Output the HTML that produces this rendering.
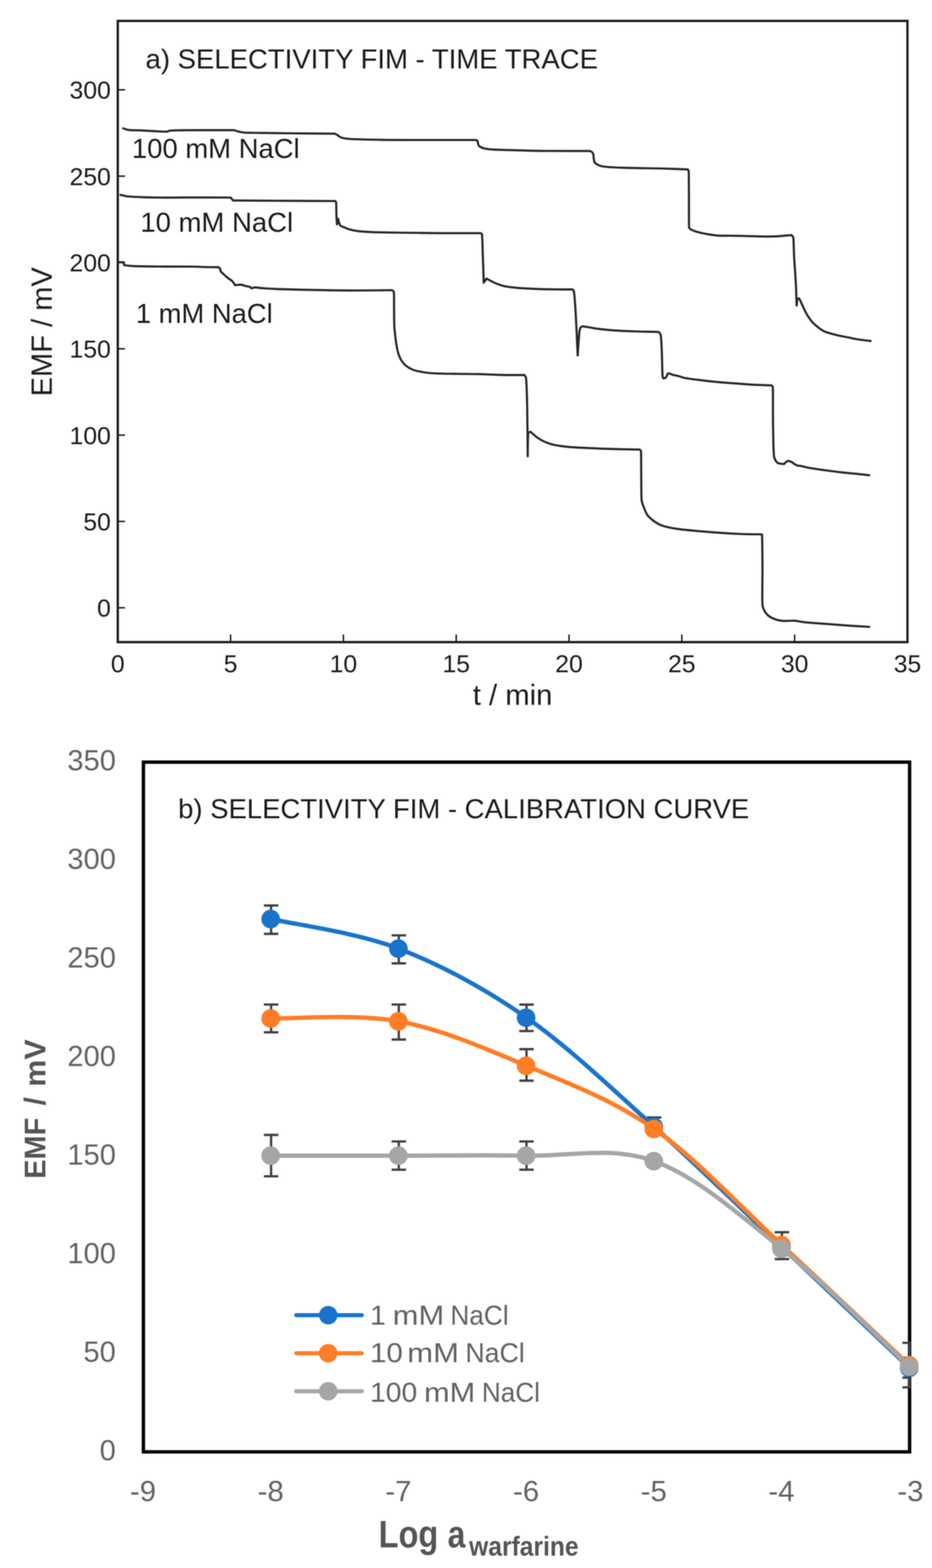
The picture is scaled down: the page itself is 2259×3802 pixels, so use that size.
<!DOCTYPE html><html><head><meta charset="utf-8"><style>html,body{margin:0;padding:0;background:#fff;}svg{display:block;}text{font-family:"Liberation Sans",Arial,sans-serif;}</style></head><body>
<svg width="2259" height="3802" viewBox="0 0 2259 3802">
<rect width="100%" height="100%" fill="#fff"/>
<g style="filter:blur(1px)">
<g id="panel-a">
<rect x="285.5" y="50.7" width="1914" height="1506.3" fill="none" stroke="#1c1a1b" stroke-width="5.6"/>
<line x1="285.5" y1="1473.7" x2="303" y2="1473.7" stroke="#1c1a1b" stroke-width="3.6"/>
<text x="268.7" y="1495.2" font-size="60" font-weight="normal" fill="#1c1a1b" text-anchor="end">0</text>
<line x1="285.5" y1="1264.38" x2="303" y2="1264.38" stroke="#1c1a1b" stroke-width="3.6"/>
<text x="268.7" y="1285.88" font-size="60" font-weight="normal" fill="#1c1a1b" text-anchor="end">50</text>
<line x1="285.5" y1="1055.07" x2="303" y2="1055.07" stroke="#1c1a1b" stroke-width="3.6"/>
<text x="268.7" y="1076.57" font-size="60" font-weight="normal" fill="#1c1a1b" text-anchor="end">100</text>
<line x1="285.5" y1="845.75" x2="303" y2="845.75" stroke="#1c1a1b" stroke-width="3.6"/>
<text x="268.7" y="867.25" font-size="60" font-weight="normal" fill="#1c1a1b" text-anchor="end">150</text>
<line x1="285.5" y1="636.43" x2="303" y2="636.43" stroke="#1c1a1b" stroke-width="3.6"/>
<text x="268.7" y="657.93" font-size="60" font-weight="normal" fill="#1c1a1b" text-anchor="end">200</text>
<line x1="285.5" y1="427.12" x2="303" y2="427.12" stroke="#1c1a1b" stroke-width="3.6"/>
<text x="268.7" y="448.62" font-size="60" font-weight="normal" fill="#1c1a1b" text-anchor="end">250</text>
<line x1="285.5" y1="217.8" x2="303" y2="217.8" stroke="#1c1a1b" stroke-width="3.6"/>
<text x="268.7" y="239.3" font-size="60" font-weight="normal" fill="#1c1a1b" text-anchor="end">300</text>
<text x="285.5" y="1630.2" font-size="60" font-weight="normal" fill="#1c1a1b" text-anchor="middle">0</text>
<line x1="558.93" y1="1557" x2="558.93" y2="1538.5" stroke="#1c1a1b" stroke-width="3.6"/>
<text x="558.93" y="1630.2" font-size="60" font-weight="normal" fill="#1c1a1b" text-anchor="middle">5</text>
<line x1="832.36" y1="1557" x2="832.36" y2="1538.5" stroke="#1c1a1b" stroke-width="3.6"/>
<text x="832.36" y="1630.2" font-size="60" font-weight="normal" fill="#1c1a1b" text-anchor="middle">10</text>
<line x1="1105.79" y1="1557" x2="1105.79" y2="1538.5" stroke="#1c1a1b" stroke-width="3.6"/>
<text x="1105.79" y="1630.2" font-size="60" font-weight="normal" fill="#1c1a1b" text-anchor="middle">15</text>
<line x1="1379.21" y1="1557" x2="1379.21" y2="1538.5" stroke="#1c1a1b" stroke-width="3.6"/>
<text x="1379.21" y="1630.2" font-size="60" font-weight="normal" fill="#1c1a1b" text-anchor="middle">20</text>
<line x1="1652.64" y1="1557" x2="1652.64" y2="1538.5" stroke="#1c1a1b" stroke-width="3.6"/>
<text x="1652.64" y="1630.2" font-size="60" font-weight="normal" fill="#1c1a1b" text-anchor="middle">25</text>
<line x1="1926.07" y1="1557" x2="1926.07" y2="1538.5" stroke="#1c1a1b" stroke-width="3.6"/>
<text x="1926.07" y="1630.2" font-size="60" font-weight="normal" fill="#1c1a1b" text-anchor="middle">30</text>
<text x="2199.5" y="1630.2" font-size="60" font-weight="normal" fill="#1c1a1b" text-anchor="middle">35</text>
<text x="352.8" y="165.5" font-size="66.7" font-weight="normal" fill="#1c1a1b" textLength="1096.55" lengthAdjust="spacingAndGlyphs">a) SELECTIVITY FIM - TIME TRACE</text>
<text x="319.71" y="382.6" font-size="66.5" font-weight="normal" fill="#1c1a1b" textLength="406.71" lengthAdjust="spacingAndGlyphs">100 mM NaCl</text>
<text x="340.2" y="562" font-size="66.5" font-weight="normal" fill="#1c1a1b" textLength="370.35" lengthAdjust="spacingAndGlyphs">10 mM NaCl</text>
<text x="329.22" y="783.2" font-size="66.5" font-weight="normal" fill="#1c1a1b" textLength="331.73" lengthAdjust="spacingAndGlyphs">1 mM NaCl</text>
<text x="1145.94" y="1709.2" font-size="71" font-weight="normal" fill="#1c1a1b" textLength="192.85" lengthAdjust="spacingAndGlyphs">t / min</text>
<text transform="translate(125.5,955.4) rotate(-90)" x="-5.64" y="0" font-size="71" fill="#1c1a1b" textLength="313.1" lengthAdjust="spacingAndGlyphs">EMF / mV</text>
<path d="M298.6,311.2 C298.6,311.2 307.1,314.66 311.6,315.2 C318.5,316.03 330.54,315.76 340,316.2 C350.78,316.7 365.58,317.7 376.3,318.2 C385.63,318.64 398.55,319.4 404.3,319.2 C406.59,319.12 408.53,317.24 410.8,317 C416.18,316.43 427.99,315.94 436.6,315.8 C451.47,315.57 478.87,315.63 500,315.6 C521.9,315.57 568,315.6 568,315.6 C568,315.6 573.78,317.95 576.8,318.7 C580.78,319.68 586.81,320.99 591.9,321.5 C597.43,322.05 603.97,321.9 610,322 C625.35,322.25 659.33,322.73 684,323 C717.67,323.37 812,324.2 812,324.2 C812,324.2 816.09,326.25 818,327.5 C819.98,328.8 821.66,330.95 823.9,332 C826.73,333.33 831.16,334.92 835,335.5 C841.02,336.42 851.65,337.2 860,337.5 C877.65,338.13 913.93,339.02 940.9,339.3 C972.57,339.63 1014.62,339.47 1050,339.5 C1084.4,339.53 1153.2,339.5 1153.2,339.5 C1153.2,339.5 1156.7,340.55 1157.5,342 C1158.47,343.75 1158.08,347.75 1159,350 C1159.86,352.1 1161.09,354.28 1163,355.5 C1165.6,357.17 1170.55,359.11 1174.6,360 C1180.03,361.2 1188.55,362.33 1195.6,362.7 C1210.57,363.48 1242,364.15 1264.4,364.7 C1286.26,365.24 1308.13,365.8 1330,366 C1357.73,366.25 1430.8,366.2 1430.8,366.2 C1430.8,366.2 1436.03,369.08 1437.3,371.6 C1438.65,374.28 1438.37,378.73 1438.9,382.3 C1439.43,385.88 1440.5,393.1 1440.5,393.1 C1440.5,393.1 1444.55,397.12 1447,398.5 C1449.87,400.12 1453.96,401.9 1457.7,402.8 C1462.18,403.88 1468.47,404.58 1473.9,405 C1482,405.63 1495.49,406.21 1506.3,406.6 C1518.88,407.05 1535.03,407.41 1549.4,407.7 C1565.02,408.02 1583.14,408.06 1600,408.5 C1619.68,409.02 1667.5,410.8 1667.5,410.8 C1667.5,410.8 1669.46,415.51 1669.5,418 C1669.92,441.4 1670,551.2 1670,551.2 C1670,551.2 1672.04,554.69 1673.7,555.7 C1676.55,557.43 1682.44,560.15 1687.1,561.6 C1693.03,563.45 1701.83,565.42 1709.3,566.8 C1717.95,568.4 1729.12,570.42 1739,571.2 C1748.84,571.98 1758.73,571.37 1768.6,571.5 C1778.48,571.63 1788.4,571.76 1798.3,572 C1811.93,572.33 1836.78,573.3 1850.4,573.5 C1860.27,573.64 1872.15,573.47 1880,573.2 C1885.85,573 1891.67,572.37 1897.5,571.9 C1903.92,571.38 1918.5,570.1 1918.5,570.1 C1918.5,570.1 1922.59,573.79 1922.9,576.3 C1923.93,584.63 1923.91,605.51 1924.7,620.1 C1925.73,639.08 1928.08,670.05 1929.1,690.2 C1929.95,707.12 1930.8,741 1930.8,741 L1932.6,725.2 L1936.9,723.4 C1936.9,723.4 1939.28,728.04 1940.4,730.4 C1943.18,736.25 1949.07,750.32 1953.6,758.5 C1957.68,765.86 1962.35,773.37 1967.6,779.5 C1972.71,785.47 1979.85,791.22 1985.1,795.3 C1989.44,798.67 1994,801.96 1999.1,804 C2006.4,806.92 2019.55,810.47 2028.9,812.8 C2037.57,814.96 2046.44,816.25 2055.2,818 C2063.97,819.75 2072.67,821.89 2081.5,823.3 C2090.7,824.77 2110.4,826.8 2110.4,826.8" fill="none" stroke="#262626" stroke-width="5.2" stroke-linejoin="round" stroke-linecap="round"/>
<path d="M292.1,472.5 C292.1,472.5 305.45,476 312.3,476.5 C327.13,477.58 358.15,478.69 381.1,479 C409.42,479.38 452.55,478.8 482.2,478.8 C507.8,478.8 559,479 559,479 L565.1,486.2 C565.1,486.2 569.1,486.19 571.1,486.2 C590.98,486.3 646.63,486.6 684.4,486.8 C724.68,487.02 812.8,487.5 812.8,487.5 C812.8,487.5 814.69,490.08 814.8,491.6 C815.25,497.67 815.17,515.15 815.5,523.9 C815.76,530.64 816.8,544.1 816.8,544.1 L819.5,530.6 C819.5,530.6 820.65,536.08 821.6,538.7 C822.62,541.52 823.58,545.47 825.6,547.5 C827.62,549.53 830.99,549.8 833.7,550.9 C837.3,552.37 842.53,555 847.2,556.3 C852.82,557.87 860.59,559.43 867.4,560.3 C875.25,561.3 885.32,561.85 894.3,562.3 C905.53,562.87 921.29,563.42 934.8,563.7 C952.42,564.07 978.77,564.23 1000,564.5 C1020.73,564.76 1041.47,565.2 1062.2,565.3 C1089.58,565.43 1164.3,565.3 1164.3,565.3 C1164.3,565.3 1168.12,566.64 1168.3,568.3 C1169.3,577.57 1169.7,604.73 1170.3,620.9 C1170.85,635.7 1171.57,654.53 1171.9,665.3 C1172.11,672.03 1172.3,685.5 1172.3,685.5 L1179.4,675.4 C1179.4,675.4 1186.97,679.63 1190.5,681.5 C1193.83,683.26 1197.1,685.21 1200.6,686.6 C1205.67,688.62 1214.15,691.92 1220.9,693.6 C1227.51,695.25 1234.37,695.85 1241.1,696.7 C1247.81,697.55 1254.55,698.25 1261.3,698.7 C1271.4,699.37 1288.23,700.2 1301.7,700.7 C1315.16,701.2 1328.63,701.54 1342.1,701.7 C1356.25,701.87 1386.6,701.7 1386.6,701.7 C1386.6,701.7 1390.38,703.04 1390.7,704.7 C1391.97,711.2 1393.36,728.67 1394.2,740.7 C1395.33,757.02 1396.5,782.38 1397.5,802.6 C1398.48,822.4 1400.2,862 1400.2,862 C1400.2,862 1402.68,822.47 1403.7,811.4 C1404.19,806.08 1404.85,798.97 1406.3,795.6 C1407.29,793.3 1412.4,791.2 1412.4,791.2 C1412.4,791.2 1420,792.38 1423.8,793 C1430.08,794.03 1441.28,796.26 1450.1,797.4 C1460.32,798.72 1473.4,800.09 1485.1,800.9 C1499.7,801.92 1520.18,802.87 1537.7,803.5 C1555.19,804.13 1580.28,804.4 1590.2,804.7 C1592.54,804.77 1597.2,805.3 1597.2,805.3 C1597.2,805.3 1601.15,810.15 1601.6,813.1 C1602.73,820.55 1603.47,837.69 1604,850 C1604.7,866.37 1605.22,900.07 1605.8,911.3 C1605.91,913.41 1607.5,917.4 1607.5,917.4 C1607.5,917.4 1612.18,917.21 1613.7,915.7 C1615.6,913.82 1617.3,907.77 1618.9,906.1 C1619.92,905.04 1623.3,905.7 1623.3,905.7 C1623.3,905.7 1627.86,908 1630.3,908.7 C1634.1,909.78 1641.72,911.03 1646.1,912.2 C1649.67,913.15 1653,914.9 1656.6,915.7 C1661.85,916.87 1670.57,918.21 1677.6,919.2 C1686.93,920.52 1700.92,922.28 1712.6,923.6 C1724.28,924.92 1736.02,926.08 1747.7,927.1 C1759.35,928.11 1771.03,928.83 1782.7,929.7 C1794.38,930.57 1806.58,931.62 1817.8,932.3 C1828.53,932.95 1841.42,933.45 1850,933.8 C1856.43,934.06 1869.3,934.4 1869.3,934.4 C1869.3,934.4 1873.01,936.79 1873.1,938.7 C1873.82,953.15 1873.33,997.27 1873.6,1021.1 C1873.83,1041.3 1874.27,1067.38 1874.7,1081.7 C1874.96,1090.14 1875.28,1101.1 1876.2,1107 C1876.76,1110.58 1878.52,1114.4 1880.2,1117.1 C1881.72,1119.54 1883.63,1122.13 1886.3,1123.2 C1889.67,1124.55 1900.4,1125.2 1900.4,1125.2 C1900.4,1125.2 1903.82,1121.37 1905.5,1120.1 C1906.99,1118.98 1908.64,1117.6 1910.5,1117.6 C1912.68,1117.6 1916.07,1118.84 1918.6,1120.1 C1921.13,1121.37 1923.33,1123.77 1925.7,1125.2 C1927.96,1126.57 1930.27,1127.95 1932.8,1128.7 C1935.33,1129.45 1938.23,1129.16 1940.9,1129.7 C1945.65,1130.67 1954.42,1133.28 1961.3,1134.5 C1971.43,1136.3 1988.23,1138.65 2001.7,1140.5 C2015.15,1142.35 2028.62,1144.08 2042.1,1145.6 C2055.58,1147.12 2071.82,1148.48 2082.6,1149.6 C2090.67,1150.44 2106.8,1152.3 2106.8,1152.3" fill="none" stroke="#262626" stroke-width="5.2" stroke-linejoin="round" stroke-linecap="round"/>
<path d="M287.1,635.9 L298.9,635.9 L301.2,643 C301.2,643 318.5,645.1 327.2,645.4 C343.32,645.95 374.33,646.12 397.9,646.3 C421.48,646.48 452.18,646.3 468.7,646.5 C478.14,646.61 487.56,647.29 497,647.5 C506.8,647.72 527.5,647.8 527.5,647.8 C527.5,647.8 531.7,648.89 532.9,650.5 C534.17,652.2 533.72,655.79 535.1,658 C536.55,660.33 539.45,662.43 541.6,664.5 C543.69,666.51 545.79,668.52 548,670.4 C550.33,672.38 553.08,674.5 555.6,676.4 C558.06,678.26 561.01,679.54 563.1,681.8 C565.43,684.32 569.6,691.5 569.6,691.5 C569.6,691.5 580.38,690.05 584.7,690.4 C588.44,690.7 591.9,692.7 595.5,693.6 C599.06,694.49 603.97,694.9 606.3,695.8 C607.71,696.34 608,698.86 609.5,699 C611.28,699.17 614.39,696.8 617,696.8 C621.85,696.8 631.38,698.5 638.6,699 C649.1,699.73 666.19,700.72 680,701.2 C698.85,701.85 727.8,702.45 751.7,702.9 C779.37,703.42 814.56,704.2 846,704.3 C879,704.4 949.7,703.5 949.7,703.5 C949.7,703.5 954.31,705.65 954.6,707.8 C955.5,714.53 954.95,731.87 955.1,743.9 C955.27,757.1 955.23,776.22 955.6,787 C955.85,794.22 956.53,801.42 957.3,808.6 C958.12,816.27 959.25,825.27 960.5,833 C961.69,840.38 962.83,848.33 964.8,855 C966.64,861.23 969.25,867.83 972.3,873 C975.16,877.85 978.81,882.35 983.1,886 C987.6,889.83 993.9,893.58 999.3,896 C1004.42,898.29 1010.02,899.34 1015.5,900.5 C1021.78,901.83 1029.82,903.17 1037,904 C1044.17,904.83 1051.39,905.25 1058.6,905.5 C1070.55,905.92 1092,906.23 1108.7,906.5 C1126.03,906.78 1144.64,906.77 1162.6,907.2 C1180.57,907.63 1198.53,908.74 1216.5,909.1 C1234.57,909.47 1271,909.4 1271,909.4 C1271,909.4 1274.75,913.58 1275,916.2 C1276.12,928.12 1277.23,959.32 1277.7,980.9 C1278.38,1012.57 1279.1,1106.2 1279.1,1106.2 C1279.1,1106.2 1279.28,1060.78 1280.4,1050.9 C1280.65,1048.67 1285.8,1046.9 1285.8,1046.9 C1285.8,1046.9 1299.49,1059.57 1307.4,1064.4 C1315.48,1069.33 1324.83,1073.85 1334.3,1076.5 C1345.53,1079.65 1361.19,1081.86 1374.8,1083.3 C1390.53,1084.97 1410.73,1085.6 1428.7,1086.5 C1446.66,1087.4 1464.63,1088.16 1482.6,1088.7 C1502.98,1089.32 1551,1090.2 1551,1090.2 C1551,1090.2 1553.65,1092.23 1553.7,1093.7 C1554.37,1113.82 1553.88,1188.22 1555,1210.9 C1555.32,1217.44 1557.97,1223.72 1560.4,1229.8 C1563.1,1236.55 1565.69,1245.53 1571.2,1251.4 C1577.95,1258.58 1589.72,1267.96 1600.9,1272.9 C1612.58,1278.07 1627.62,1280.34 1641.3,1282.4 C1659.27,1285.1 1686.2,1287.26 1708.7,1289.1 C1733.4,1291.12 1767.03,1293.43 1789.5,1294.5 C1807.48,1295.35 1843.5,1295.5 1843.5,1295.5 C1843.5,1295.5 1846.93,1295.47 1847,1296.7 C1847.77,1309.87 1847.93,1348.56 1848.1,1374.5 C1848.28,1402.75 1846.95,1447.87 1848.1,1466.2 C1848.51,1472.71 1851.57,1479.35 1855,1484.5 C1858.43,1489.65 1863.22,1494.2 1868.7,1497.1 C1875.18,1500.53 1885.17,1503.88 1893.9,1505.1 C1903.45,1506.43 1916.83,1504.52 1926,1505.1 C1933.71,1505.59 1941.22,1507.83 1948.9,1508.6 C1962.27,1509.93 1989.02,1511.77 2006.2,1513.1 C2021.47,1514.28 2036.72,1515.55 2052,1516.6 C2068.8,1517.75 2107,1520 2107,1520" fill="none" stroke="#262626" stroke-width="5.2" stroke-linejoin="round" stroke-linecap="round"/>
</g>
<g id="panel-b">
<text x="241.49" y="3540.7" font-size="70.5" font-weight="normal" fill="#636363" textLength="39.21" lengthAdjust="spacingAndGlyphs">0</text>
<text x="202.37" y="3301.79" font-size="70.5" font-weight="normal" fill="#636363" textLength="78.42" lengthAdjust="spacingAndGlyphs">50</text>
<text x="163.24" y="3062.87" font-size="70.5" font-weight="normal" fill="#636363" textLength="117.63" lengthAdjust="spacingAndGlyphs">100</text>
<text x="163.24" y="2823.96" font-size="70.5" font-weight="normal" fill="#636363" textLength="117.63" lengthAdjust="spacingAndGlyphs">150</text>
<text x="163.24" y="2585.04" font-size="70.5" font-weight="normal" fill="#636363" textLength="117.63" lengthAdjust="spacingAndGlyphs">200</text>
<text x="163.24" y="2346.13" font-size="70.5" font-weight="normal" fill="#636363" textLength="117.63" lengthAdjust="spacingAndGlyphs">250</text>
<text x="163.24" y="2107.21" font-size="70.5" font-weight="normal" fill="#636363" textLength="117.63" lengthAdjust="spacingAndGlyphs">300</text>
<text x="163.24" y="1868.3" font-size="70.5" font-weight="normal" fill="#636363" textLength="117.63" lengthAdjust="spacingAndGlyphs">350</text>
<text x="346.6" y="3639.8" font-size="71" font-weight="normal" fill="#636363" text-anchor="middle">-9</text>
<text x="656.12" y="3639.8" font-size="71" font-weight="normal" fill="#636363" text-anchor="middle">-8</text>
<text x="965.63" y="3639.8" font-size="71" font-weight="normal" fill="#636363" text-anchor="middle">-7</text>
<text x="1275.15" y="3639.8" font-size="71" font-weight="normal" fill="#636363" text-anchor="middle">-6</text>
<text x="1584.67" y="3639.8" font-size="71" font-weight="normal" fill="#636363" text-anchor="middle">-5</text>
<text x="1894.18" y="3639.8" font-size="71" font-weight="normal" fill="#636363" text-anchor="middle">-4</text>
<text x="2206.7" y="3639.8" font-size="71" font-weight="normal" fill="#636363" text-anchor="middle">-3</text>
<text x="431.77" y="1983.8" font-size="66.6" font-weight="normal" fill="#1c1a1b" textLength="1384.25" lengthAdjust="spacingAndGlyphs">b) SELECTIVITY FIM - CALIBRATION CURVE</text>
<rect x="347.6" y="1848" width="1857.1" height="1672.4" fill="none" stroke="#000" stroke-width="8.2"/>
<clipPath id="pc"><rect x="347.6" y="1808" width="1860.1" height="1712.4"/></clipPath>
<g clip-path="url(#pc)">
<path d="M657.12,2195.6 V2264.4 M639.62,2195.6 H674.62 M639.62,2264.4 H674.62" stroke="#404040" stroke-width="5.6" fill="none"/>
<path d="M966.63,2268 V2335.9 M949.13,2268 H984.13 M949.13,2335.9 H984.13" stroke="#404040" stroke-width="5.6" fill="none"/>
<path d="M1276.15,2435.9 V2500 M1258.65,2435.9 H1293.65 M1258.65,2500 H1293.65" stroke="#404040" stroke-width="5.6" fill="none"/>
<path d="M1585.67,2709.5 V2749 M1568.17,2709.5 H1603.17 M1568.17,2749 H1603.17" stroke="#404040" stroke-width="5.6" fill="none"/>
<path d="M2204.7,3292 V3340.4 M2187.2,3292 H2222.2 M2187.2,3340.4 H2222.2" stroke="#404040" stroke-width="5.6" fill="none"/>
</g>
<path d="M657.12,2228.5 C708.7,2240.47 863.46,2260.45 966.63,2300.3 C1069.81,2340.15 1172.98,2395.65 1276.15,2467.6 C1379.32,2539.55 1482.49,2639.27 1585.67,2732 C1688.84,2824.73 1792.01,2926.55 1895.18,3024 C1998.36,3121.45 2153.11,3267.92 2204.7,3316.7" fill="none" stroke="#1973cc" stroke-width="10.5" stroke-linecap="round" stroke-linejoin="round"/>
<circle cx="656.12" cy="2228.5" r="22.7" fill="#1973cc"/>
<circle cx="965.63" cy="2300.3" r="22.7" fill="#1973cc"/>
<circle cx="1275.15" cy="2467.6" r="22.7" fill="#1973cc"/>
<circle cx="1584.67" cy="2732" r="22.7" fill="#1973cc"/>
<circle cx="1894.18" cy="3024" r="22.7" fill="#1973cc"/>
<circle cx="2203.7" cy="3316.7" r="22.7" fill="#1973cc"/>
<g clip-path="url(#pc)">
<path d="M657.12,2435.8 V2503.1 M639.62,2435.8 H674.62 M639.62,2503.1 H674.62" stroke="#404040" stroke-width="5.6" fill="none"/>
<path d="M966.63,2435.8 V2520.6 M949.13,2435.8 H984.13 M949.13,2520.6 H984.13" stroke="#404040" stroke-width="5.6" fill="none"/>
<path d="M1276.15,2543.9 V2620.4 M1258.65,2543.9 H1293.65 M1258.65,2620.4 H1293.65" stroke="#404040" stroke-width="5.6" fill="none"/>
<path d="M1895.18,2987.9 V3053 M1877.68,2987.9 H1912.68 M1877.68,3053 H1912.68" stroke="#404040" stroke-width="5.6" fill="none"/>
<path d="M2204.7,3256 V3364 M2187.2,3256 H2222.2 M2187.2,3364 H2222.2" stroke="#404040" stroke-width="5.6" fill="none"/>
</g>
<path d="M657.12,2469.5 C708.7,2470.67 863.46,2457.38 966.63,2476.5 C1069.81,2495.62 1172.98,2540.72 1276.15,2584.2 C1379.32,2627.68 1482.49,2664.93 1585.67,2737.4 C1688.84,2809.87 1792.01,2923.48 1895.18,3019 C1998.36,3114.52 2153.11,3261.92 2204.7,3310.5" fill="none" stroke="#ff7d25" stroke-width="10.5" stroke-linecap="round" stroke-linejoin="round"/>
<circle cx="656.12" cy="2469.5" r="22.7" fill="#ff7d25"/>
<circle cx="965.63" cy="2476.5" r="22.7" fill="#ff7d25"/>
<circle cx="1275.15" cy="2584.2" r="22.7" fill="#ff7d25"/>
<circle cx="1584.67" cy="2737.4" r="22.7" fill="#ff7d25"/>
<circle cx="1894.18" cy="3019" r="22.7" fill="#ff7d25"/>
<circle cx="2203.7" cy="3310.5" r="22.7" fill="#ff7d25"/>
<g clip-path="url(#pc)">
<path d="M657.12,2751.9 V2852.3 M639.62,2751.9 H674.62 M639.62,2852.3 H674.62" stroke="#404040" stroke-width="5.6" fill="none"/>
<path d="M966.63,2767.8 V2836.3 M949.13,2767.8 H984.13 M949.13,2836.3 H984.13" stroke="#404040" stroke-width="5.6" fill="none"/>
<path d="M1276.15,2767.8 V2836.3 M1258.65,2767.8 H1293.65 M1258.65,2836.3 H1293.65" stroke="#404040" stroke-width="5.6" fill="none"/>
</g>
<path d="M657.12,2802.3 C708.7,2802.3 863.46,2802.3 966.63,2802.3 C1069.81,2802.3 1172.98,2800.1 1276.15,2802.3 C1379.32,2804.5 1482.49,2777.88 1585.67,2815.5 C1688.84,2853.12 1792.01,2944.93 1895.18,3028 C1998.36,3111.07 2153.11,3266.25 2204.7,3313.9" fill="none" stroke="#a6a6a6" stroke-width="10.5" stroke-linecap="round" stroke-linejoin="round"/>
<circle cx="656.12" cy="2802.3" r="22.7" fill="#a6a6a6"/>
<circle cx="965.63" cy="2802.3" r="22.7" fill="#a6a6a6"/>
<circle cx="1275.15" cy="2802.3" r="22.7" fill="#a6a6a6"/>
<circle cx="1584.67" cy="2815.5" r="22.7" fill="#a6a6a6"/>
<circle cx="1894.18" cy="3028" r="22.7" fill="#a6a6a6"/>
<circle cx="2203.7" cy="3313.9" r="22.7" fill="#a6a6a6"/>
<line x1="718" y1="3189" x2="877" y2="3189" stroke="#1973cc" stroke-width="10" stroke-linecap="round"/>
<circle cx="795.6" cy="3189" r="22.5" fill="#1973cc"/>
<line x1="718" y1="3281.2" x2="877" y2="3281.2" stroke="#ff7d25" stroke-width="10" stroke-linecap="round"/>
<circle cx="795.6" cy="3281.2" r="22.5" fill="#ff7d25"/>
<line x1="718" y1="3373.4" x2="877" y2="3373.4" stroke="#a6a6a6" stroke-width="10" stroke-linecap="round"/>
<circle cx="795.6" cy="3373.4" r="22.5" fill="#a6a6a6"/>
<text y="3211.8" font-size="67.5" font-weight="normal" fill="#636363"><tspan x="896.97" textLength="38.03" lengthAdjust="spacingAndGlyphs">1</tspan> <tspan x="951.73" textLength="124.96" lengthAdjust="spacingAndGlyphs">mM</tspan> <tspan x="1091.72" textLength="141.08" lengthAdjust="spacingAndGlyphs">NaCl</tspan></text>
<text y="3303.2" font-size="67.5" font-weight="normal" fill="#636363"><tspan x="896.72" textLength="79.82" lengthAdjust="spacingAndGlyphs">10</tspan> <tspan x="987.01" textLength="125.29" lengthAdjust="spacingAndGlyphs">mM</tspan> <tspan x="1128.12" textLength="143.86" lengthAdjust="spacingAndGlyphs">NaCl</tspan></text>
<text y="3399.3" font-size="67.5" font-weight="normal" fill="#636363"><tspan x="896.96" textLength="114.32" lengthAdjust="spacingAndGlyphs">100</tspan> <tspan x="1027.65" textLength="124.3" lengthAdjust="spacingAndGlyphs">mM</tspan> <tspan x="1167.93" textLength="140.86" lengthAdjust="spacingAndGlyphs">NaCl</tspan></text>
<text y="0" font-size="73" font-weight="bold" fill="#555555" transform="translate(110.0,2860) rotate(-90)"><tspan x="1.74" textLength="147.98" lengthAdjust="spacingAndGlyphs">EMF</tspan> <tspan x="179.53">/</tspan> <tspan x="225.1" textLength="114.85" lengthAdjust="spacingAndGlyphs">mV</tspan></text>
<text y="3752.2" font-size="92" font-weight="bold" fill="#555555"><tspan x="917.67" textLength="144.67" lengthAdjust="spacingAndGlyphs">Log</tspan> <tspan x="1084.88" textLength="42.93" lengthAdjust="spacingAndGlyphs">a</tspan></text>
<text x="1137" y="3772.2" font-size="67" font-weight="bold" fill="#555555" textLength="265.47" lengthAdjust="spacingAndGlyphs">warfarine</text>
</g>
</g>
</svg></body></html>
